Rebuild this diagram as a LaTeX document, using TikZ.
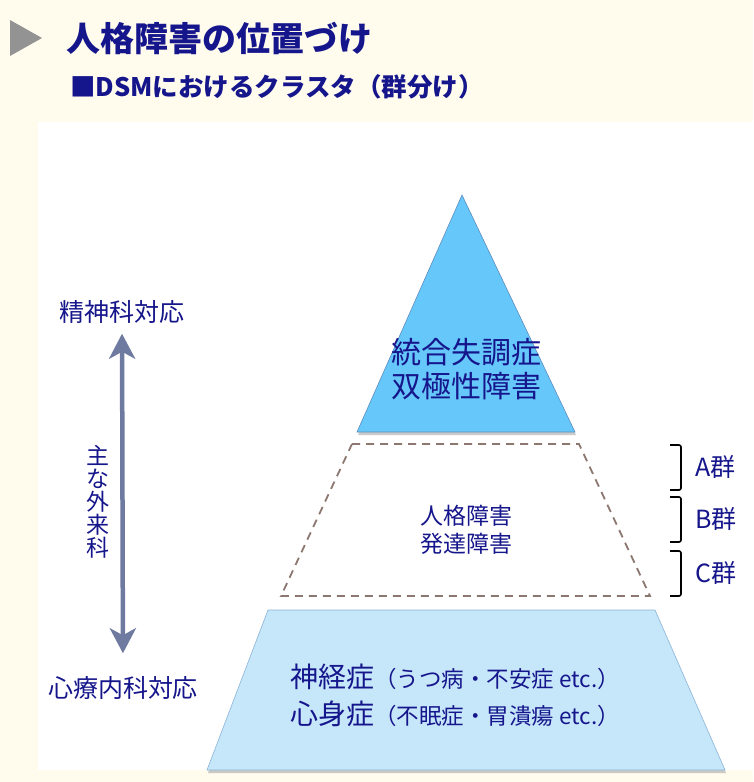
\documentclass[tikz,border=0pt]{standalone}
\usepackage{fontspec}
\setmainfont{Noto Sans CJK JP}
\usepackage{xcolor}
\definecolor{PageColor}{RGB}{255,252,238}
\definecolor{NavyText}{RGB}{22,22,140}
\definecolor{TopColor}{RGB}{102,200,250}
\definecolor{TopEdge}{RGB}{95,140,190}
\definecolor{BaseColor}{RGB}{198,230,250}
\definecolor{BaseEdge}{RGB}{140,180,215}
\definecolor{DashColor}{RGB}{140,120,112}
\definecolor{ArrowColor}{RGB}{110,122,160}
\usetikzlibrary{arrows.meta, shadows}

\begin{document}
\begin{tikzpicture}[
    x=1pt, y=-1pt,
    txt/.style={inner sep=0pt, text=NavyText, align=center},
    big/.style={txt, font=\fontsize{30}{34}\selectfont},
    mid/.style={txt, font=\fontsize{23}{28}\selectfont},
    side/.style={txt, font=\fontsize{25}{30}\selectfont},
    tier/.style={draw, line width=0.6pt, drop shadow={shadow xshift=1pt, shadow yshift=-3pt, fill=black!45, opacity=0.45}},
    bracket/.style={draw=black, line width=1.6pt, rounded corners=2pt},
    updown/.style={{Stealth[length=25pt, width=26pt, inset=7pt]}-{Stealth[length=25pt, width=26pt, inset=7pt]}, line width=4.5pt, draw=ArrowColor},
]

% ============================================
% BACKGROUND
% ============================================
\fill[PageColor] (0,0) rectangle (753,782);
\fill[white] (38,122) rectangle (753,770);
\useasboundingbox (0,0) rectangle (753,782);

% ============================================
% HEADING
% ============================================
\fill[gray!85] (10,20) -- (42,38) -- (10,56) -- cycle;
\node[txt, anchor=west, font=\fontsize{34}{38}\selectfont\bfseries] (title) at (66,38) {人格障害の位置づけ};
\node[txt, anchor=west, font=\fontsize{25.5}{28}\selectfont\bfseries] (subtitle) at (70,87) {■DSMにおけるクラスタ（群分け）};

% ============================================
% PYRAMID
% ============================================
% top: triangle
\path[tier, fill=TopColor, draw=TopEdge] (462,195) -- (575,432) -- (357,432) -- cycle;
\node[big] (psychosis) at (466,369) {統合失調症\\双極性障害};

% middle: dashed trapezoid
\draw[DashColor, line width=1.8pt, dash pattern=on 8pt off 6pt] (352,444) -- (579,444) -- (650,596) -- (281,596) -- cycle;
\node[mid] (personality) at (466,530) {人格障害\\発達障害};

% bottom: trapezoid
\path[tier, fill=BaseColor, draw=BaseEdge] (268,610) -- (655,610) -- (725,770) -- (207,770) -- cycle;
\node[txt, anchor=west, align=left, font=\fontsize{22.5}{37}\selectfont] (neurosis) at (290,695) {%
    {\fontsize{28}{37}\selectfont 神経症}（うつ病・不安症 etc.）\\
    {\fontsize{28}{37}\selectfont 心身症}（不眠症・胃潰瘍 etc.）};

% ============================================
% CLUSTERS
% ============================================
\draw[bracket] (670,445) -- (681,445) -- (681,490) -- (670,490);
\draw[bracket] (670,497) -- (681,497) -- (681,542) -- (670,542);
\draw[bracket] (670,551) -- (681,551) -- (681,596) -- (670,596);
\node[side, anchor=west] (clusterA) at (695,467) {A群};
\node[side, anchor=west] (clusterB) at (695,519) {B群};
\node[side, anchor=west] (clusterC) at (695,573) {C群};

% ============================================
% LEFT AXIS
% ============================================
\node[side] (psych) at (122,312) {精神科対応};
\node[side] (psychosom) at (123,688) {心療内科対応};
\draw[updown, shorten <=10pt, shorten >=23pt] (psych.south) -- (psychosom.north);
\node[txt, font=\fontsize{23}{23}\selectfont] (outpatient) at (98,502) {主\\な\\外\\来\\科};

\end{tikzpicture}
\end{document}
